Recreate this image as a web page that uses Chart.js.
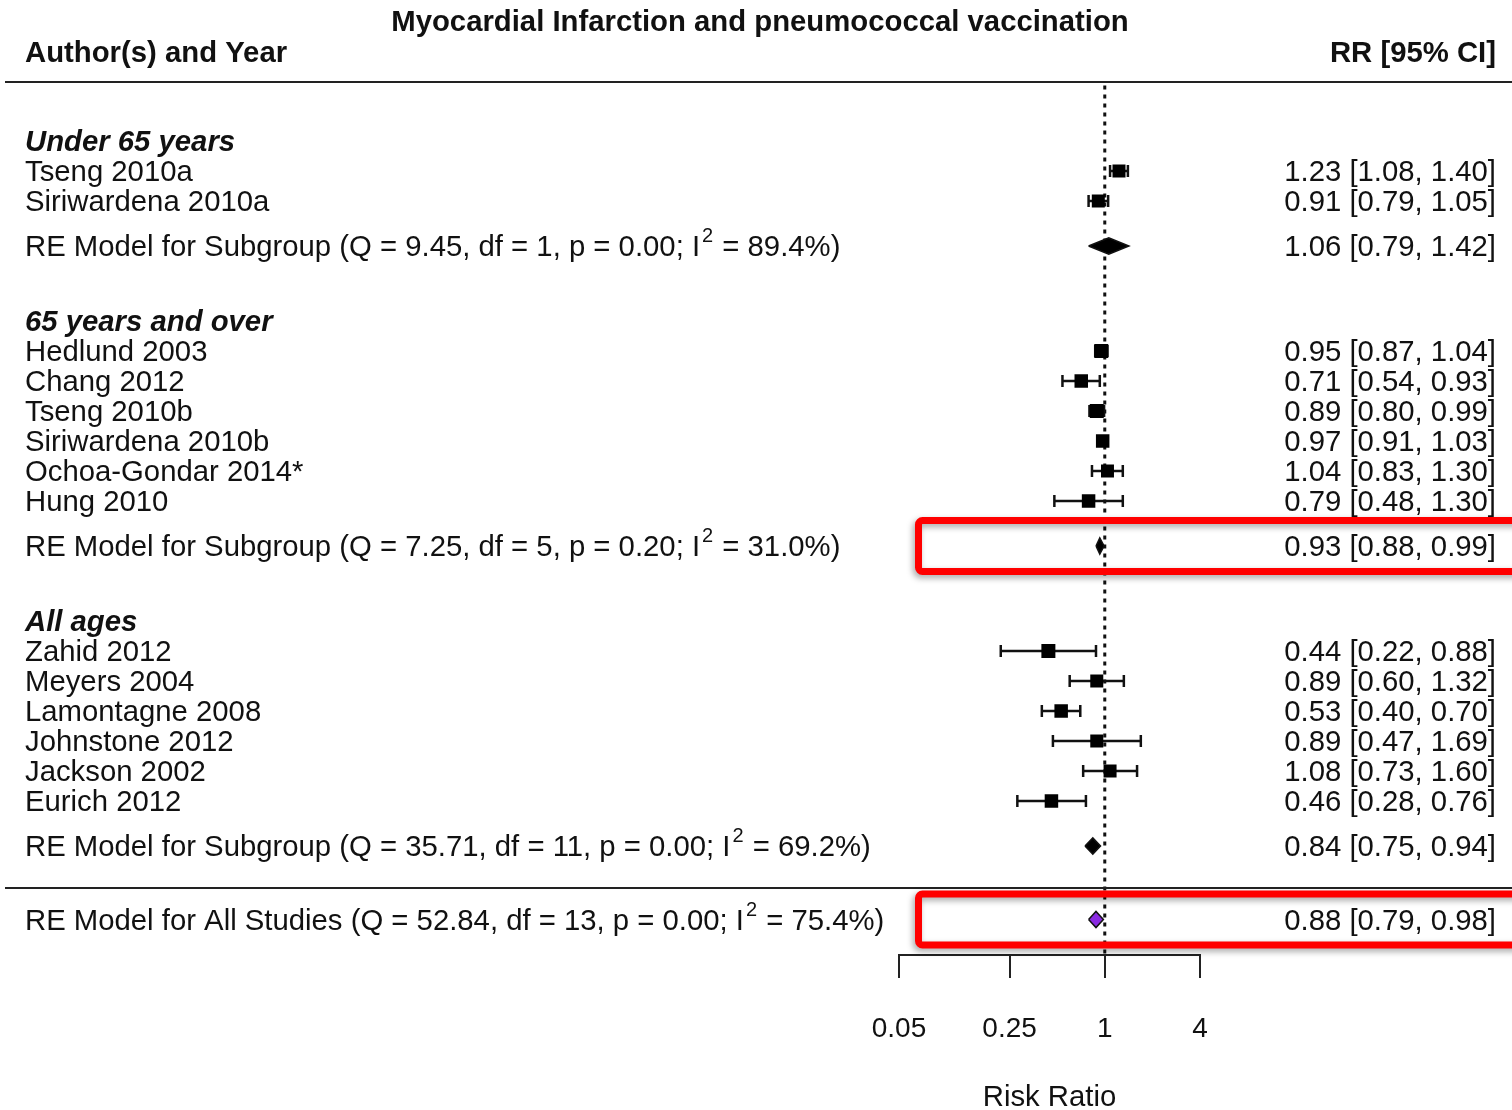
<!DOCTYPE html>
<html>
<head>
<meta charset="utf-8">
<title>Forest plot</title>
<script src="https://cdn.jsdelivr.net/npm/chart.js@4.4.1/dist/chart.umd.min.js"></script>
<style>
  html, body { margin: 0; padding: 0; background: #fff; }
  #wrap { width: 1512px; height: 1110px; position: relative; }
</style>
</head>
<body>
<div id="wrap"><canvas id="forest"></canvas></div>
<script>
/* ===============================
   DATA
================================ */
const groups = ['Under 65 years', '65 years and over', 'All ages'];

const studies = [
  'Tseng 2010a', 'Siriwardena 2010a',
  'Hedlund 2003', 'Chang 2012', 'Tseng 2010b', 'Siriwardena 2010b', 'Ochoa-Gondar 2014*', 'Hung 2010',
  'Zahid 2012', 'Meyers 2004', 'Lamontagne 2008', 'Johnstone 2012', 'Jackson 2002', 'Eurich 2012'
];
const studyGroup = [0, 0, 1, 1, 1, 1, 1, 1, 2, 2, 2, 2, 2, 2];
const rr    = [1.23, 0.91, 0.95, 0.71, 0.89, 0.97, 1.04, 0.79, 0.44, 0.89, 0.53, 0.89, 1.08, 0.46];
const lower = [1.08, 0.79, 0.87, 0.54, 0.80, 0.91, 0.83, 0.48, 0.22, 0.60, 0.40, 0.47, 0.73, 0.28];
const upper = [1.40, 1.05, 1.04, 0.93, 0.99, 1.03, 1.30, 1.30, 0.88, 1.32, 0.70, 1.69, 1.60, 0.76];

// random-effects summaries: 3 subgroups + all studies
const reName  = ['RE Model for Subgroup', 'RE Model for Subgroup', 'RE Model for Subgroup', 'RE Model for All Studies'];
const reQ     = ['9.45', '7.25', '35.71', '52.84'];
const reDf    = [1, 5, 11, 13];
const reP     = ['0.00', '0.20', '0.00', '0.00'];
const reI2    = ['89.4', '31.0', '69.2', '75.4'];
const reRR    = [1.06, 0.93, 0.84, 0.88];
const reLower = [0.79, 0.88, 0.75, 0.79];
const reUpper = [1.42, 0.99, 0.94, 0.98];

const xTicks = [0.05, 0.25, 1, 4];

/* ===============================
   STYLE / LAYOUT
================================ */
const FONT = '"Liberation Sans", Arial, Helvetica, sans-serif';
const INK = '#111';
const TXT = 29.3;
const boxSide = [13, 13, 14, 13.5, 14, 13.5, 13, 13.5, 14, 13, 13.5, 13, 13, 13.5];
const diamondHalf = 0.27;   // rows
const reFill = ['#000', '#000', '#000', '#8a2be2'];
const highlight = [1, 3];   // RE rows boxed in red

// row numbers (top-down, 1 row = 30px)
const headerRow = [];
const studyRow = [];
const reRow = [];
let r = -1;
groups.forEach((g, gi) => {
  headerRow.push(r);
  studies.forEach((s, i) => {
    if (studyGroup[i] === gi) { r += 1; studyRow[i] = r; }
  });
  reRow.push(r + 1.5);
  r += 4;
});
reRow.push(reRow[2] + 2.45);
const sepRow = reRow[2] + 1.4;

const fmt = v => v.toFixed(2);
const ciText = (e, l, u) => `${fmt(e)} [${fmt(l)}, ${fmt(u)}]`;

/* ===============================
   DATASETS
================================ */
const ciData = [];
const capData = [];
studies.forEach((s, i) => {
  ciData.push({ x: lower[i], y: studyRow[i] }, { x: upper[i], y: studyRow[i] }, { x: null, y: null });
  capData.push({ x: lower[i], y: studyRow[i] }, { x: upper[i], y: studyRow[i] });
});

const diamondSets = reRR.map((e, k) => ({
  data: [
    { x: reLower[k], y: reRow[k] },
    { x: e, y: reRow[k] - diamondHalf },
    { x: reUpper[k], y: reRow[k] },
    { x: e, y: reRow[k] + diamondHalf },
    { x: reLower[k], y: reRow[k] }
  ],
  showLine: true,
  fill: 'shape',
  backgroundColor: reFill[k],
  borderColor: '#111',
  borderWidth: 1.5,
  pointRadius: 0,
  tension: 0,
  order: 3
}));

/* ===============================
   TEXT / FRAME PLUGIN
================================ */
const forestText = {
  id: 'forestText',
  afterDraw(chart) {
    const ctx = chart.ctx;
    const yS = chart.scales.y;
    const W = chart.width;
    const py = v => yS.getPixelForValue(v);

    ctx.save();
    ctx.fillStyle = INK;
    ctx.textBaseline = 'alphabetic';

    // title and column headers
    ctx.font = `bold ${TXT}px ${FONT}`;
    ctx.textAlign = 'center';
    ctx.fillText('Myocardial Infarction and pneumococcal vaccination', 760, 31);
    ctx.textAlign = 'left';
    ctx.fillText('Author(s) and Year', 25, 62);
    ctx.textAlign = 'right';
    ctx.fillText('RR [95% CI]', 1496, 62);

    // rules
    ctx.strokeStyle = '#222';
    ctx.lineWidth = 2;
    ctx.beginPath();
    ctx.moveTo(5, 82); ctx.lineTo(W, 82);
    ctx.moveTo(5, py(sepRow)); ctx.lineTo(W, py(sepRow));
    ctx.stroke();

    // group headings
    ctx.font = `italic bold ${TXT}px ${FONT}`;
    ctx.textAlign = 'left';
    groups.forEach((g, gi) => ctx.fillText(g, 25, py(headerRow[gi]) + 10));

    // study rows
    ctx.font = `${TXT}px ${FONT}`;
    studies.forEach((s, i) => {
      const y = py(studyRow[i]) + 10;
      ctx.textAlign = 'left';
      ctx.fillText(s, 25, y);
      ctx.textAlign = 'right';
      ctx.fillText(ciText(rr[i], lower[i], upper[i]), 1496, y);
    });

    // RE model rows with I^2 superscript
    reName.forEach((n, k) => {
      const y = py(reRow[k]) + 10;
      ctx.font = `${TXT}px ${FONT}`;
      ctx.textAlign = 'left';
      const a = `${n} (Q = ${reQ[k]}, df = ${reDf[k]}, p = ${reP[k]}; I`;
      ctx.fillText(a, 25, y);
      let x = 25 + ctx.measureText(a).width + 2;
      ctx.font = `20px ${FONT}`;
      ctx.fillText('2', x, y - 14);
      x += ctx.measureText('2').width + 1;
      ctx.font = `${TXT}px ${FONT}`;
      ctx.fillText(` = ${reI2[k]}%)`, x, y);
      ctx.textAlign = 'right';
      ctx.fillText(ciText(reRR[k], reLower[k], reUpper[k]), 1496, y);
    });

    // red highlight boxes
    ctx.shadowColor = 'rgba(0,0,0,0.35)';
    ctx.shadowBlur = 6;
    ctx.shadowOffsetX = -2;
    ctx.shadowOffsetY = 3;
    ctx.strokeStyle = '#ff0000';
    ctx.lineWidth = 7;
    highlight.forEach(k => {
      const c = py(reRow[k]);
      ctx.beginPath();
      ctx.roundRect(918.5, c - 25.5, 700, 51, 4);
      ctx.stroke();
    });
    ctx.restore();
  }
};

/* ===============================
   CHART
================================ */
const chart = new Chart(document.getElementById('forest'), {
  type: 'scatter',
  data: {
    datasets: [
      {
        data: rr.map((v, i) => ({ x: v, y: studyRow[i] })),
        pointStyle: 'rect',
        pointRadius: boxSide.map(s => s / Math.SQRT2),
        backgroundColor: '#000',
        borderWidth: 0,
        order: 0
      },
      {
        data: capData,
        pointStyle: 'line',
        rotation: 90,
        pointRadius: 6,
        borderColor: INK,
        borderWidth: 2.5,
        order: 1
      },
      {
        data: ciData,
        showLine: true,
        spanGaps: false,
        pointRadius: 0,
        borderColor: INK,
        borderWidth: 2.5,
        order: 2
      },
      ...diamondSets,
      {
        data: [{ x: 1, y: -2.85 }, { x: 1, y: 26.13 }],
        showLine: true,
        pointRadius: 0,
        borderColor: INK,
        borderWidth: 3,
        borderDash: [4, 5],
        order: 9
      }
    ]
  },
  options: {
    responsive: true,
    maintainAspectRatio: false,
    animation: false,
    events: [],
    layout: { padding: { left: 899, right: 312, top: 82, bottom: 0 } },
    plugins: { legend: { display: false }, tooltip: { enabled: false } },
    scales: {
      x: {
        type: 'logarithmic',
        min: 0.05,
        max: 4,
        afterBuildTicks: s => { s.ticks = xTicks.map(v => ({ value: v })); },
        afterFit: s => { s.height = 155; },
        ticks: {
          callback: v => String(v),
          color: INK,
          font: { family: FONT, size: 28 },
          padding: 34,
          autoSkip: false,
          maxRotation: 0
        },
        grid: { drawOnChartArea: false, drawTicks: true, tickLength: 23, color: '#222', lineWidth: 2 },
        border: { display: true, color: '#222', width: 2 },
        title: {
          display: true,
          text: 'Risk Ratio',
          color: INK,
          font: { family: FONT, size: TXT, lineHeight: 0.8 },
          padding: 0
        }
      },
      y: {
        type: 'linear',
        reverse: true,
        min: -2.9667,
        max: 26.1333,
        display: false
      }
    }
  },
  plugins: [forestText]
});
</script>
</body>
</html>
